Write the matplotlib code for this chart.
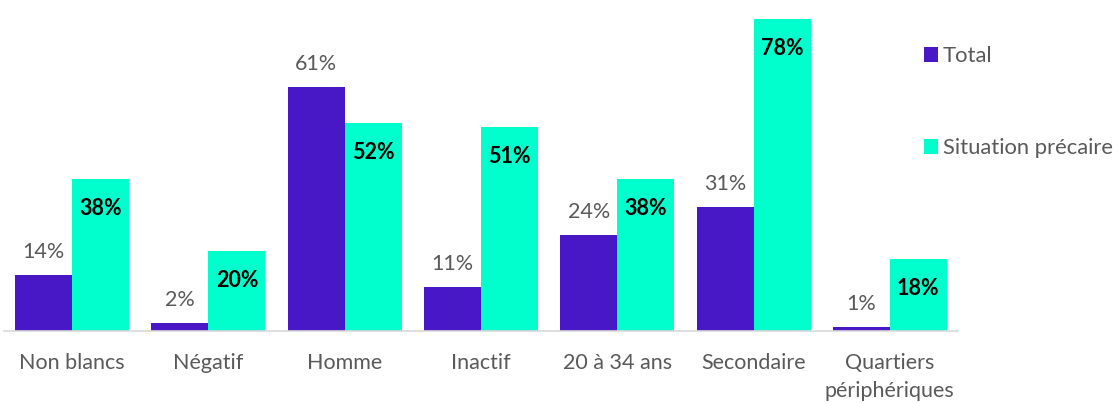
import numpy as np
import matplotlib
matplotlib.use("Agg")
import matplotlib.pyplot as plt

categories = ["Non blancs", "Négatif", "Homme", "Inactif", "20 à 34 ans",
              "Secondaire", "Quartiers\npériphériques"]
total = [14, 2, 61, 11, 24, 31, 1]
precaire = [38, 20, 52, 51, 38, 78, 18]

PURPLE, TEAL, GREY = "#4818C6", "#00FFCC", "#595959"
FS = 15.5
plt.rcParams.update({"font.family": ["Lato", "DejaVu Sans"], "font.size": FS})

fig = plt.figure(figsize=(11.18, 4.03), dpi=100)
ax = fig.add_axes([4 / 1118, 72 / 403, 954 / 1118, 320 / 403])

x = np.arange(len(categories))
w = 0.418
b1 = ax.bar(x - w / 2, total, w, color=PURPLE, label="Total")
b2 = ax.bar(x + w / 2, precaire, w, color=TEAL, label="Situation précaire")

for rect, v in zip(b1, total):
    ax.annotate(f"{v}%", (rect.get_x() + rect.get_width() / 2, rect.get_height()),
                xytext=(0, 16.5), textcoords="offset points", ha="center", va="center",
                color=GREY, fontsize=FS)
for rect, v in zip(b2, precaire):
    ax.annotate(f"{v}%", (rect.get_x() + rect.get_width() / 2, rect.get_height()),
                xytext=(0, -21), textcoords="offset points", ha="center", va="center",
                color="black", fontsize=FS, fontweight="bold")

ax.set_xlim(-0.5, len(categories) - 0.5)
ax.set_ylim(0, 80)
ax.set_yticks([])
ax.set_xticks(x)
ax.set_xticklabels(categories, color=GREY, fontsize=FS, linespacing=1.5)
ax.tick_params(axis="x", length=0, pad=15.5)
for side in ["top", "left", "right"]:
    ax.spines[side].set_visible(False)
ax.spines["bottom"].set_color("#D9D9D9")
ax.spines["bottom"].set_linewidth(1.2)

fig.legend(handles=[b1, b2], loc="upper left", bbox_to_anchor=(924 / 1118, 1 - 46 / 403),
           frameon=False, fontsize=15.8, labelcolor=GREY, handlelength=0.65,
           handleheight=0.65, handletextpad=0.2, labelspacing=3.28, borderpad=0,
           borderaxespad=0)

fig.savefig("out.png", dpi=100, facecolor="white")
